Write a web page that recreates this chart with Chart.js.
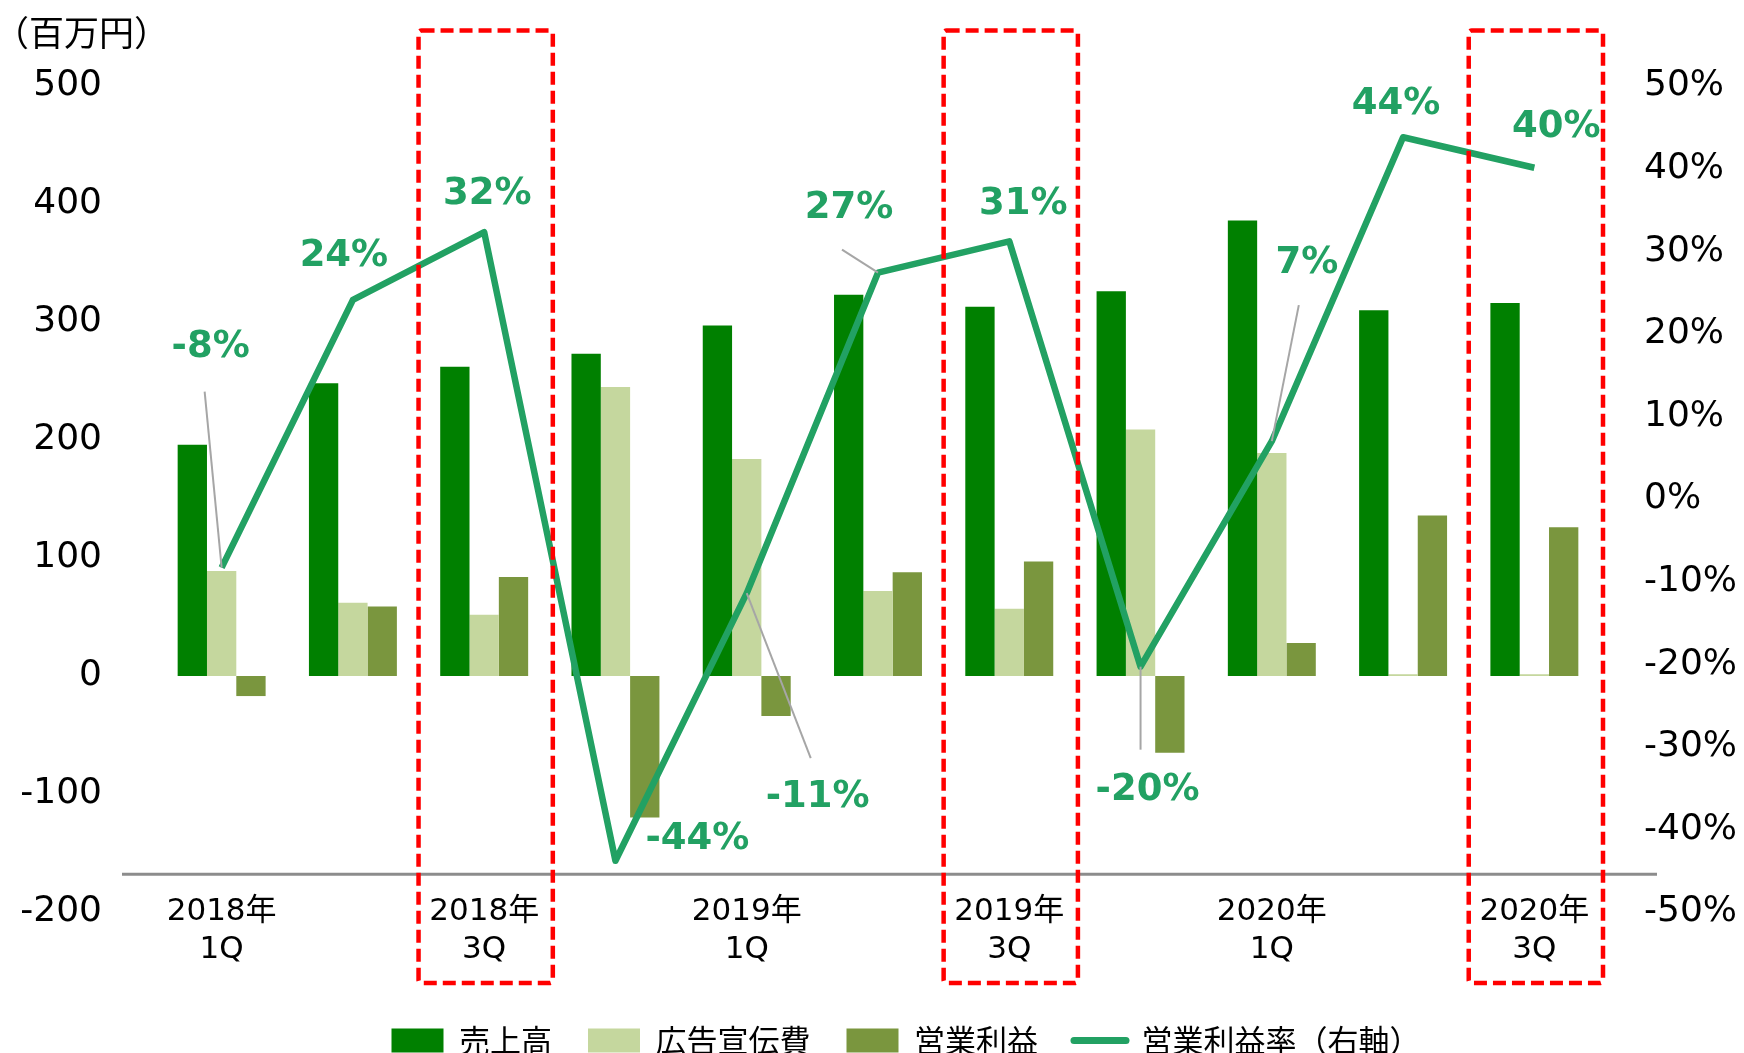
<!DOCTYPE html>
<html>
<head>
<meta charset="utf-8">
<script src="https://cdn.jsdelivr.net/npm/chart.js@4.4.0/dist/chart.umd.min.js"></script>
<style>
  html, body { margin: 0; padding: 0; background: #fff; overflow: hidden; }
  canvas { display: block; }
</style>
</head>
<body>
<canvas id="chart" width="1744" height="1066"></canvas>
<script>
// Data
const quarters = ['2018年1Q', '2018年2Q', '2018年3Q', '2018年4Q', '2019年1Q', '2019年2Q',
  '2019年3Q', '2019年4Q', '2020年1Q', '2020年2Q', '2020年3Q'];
const tickLabels = [['2018年', '1Q'], '', ['2018年', '3Q'], '', ['2019年', '1Q'], '',
  ['2019年', '3Q'], '', ['2020年', '1Q'], '', ['2020年', '3Q']];
const sales = [196, 248, 262, 273, 297, 323, 313, 326, 386, 310, 316];
const adCost = [89, 62, 52, 245, 184, 72, 57, 209, 189, 1.5, 1.5];
const operatingProfit = [-17, 59, 84, -120, -34, 88, 97, -65, 28, 136, 126];
const operatingMargin = [-8.3, 24.1, 32.3, -43.8, -11.4, 27.4, 31.2, -20.3, 7.0, 43.8, 40.1];
const highlighted = ['2018年3Q', '2019年3Q', '2020年3Q'];

// Axis ranges
const LEFT_MIN = -200, LEFT_MAX = 500, LEFT_STEP = 100;
const RIGHT_MIN = -50, RIGHT_MAX = 50, RIGHT_STEP = 10;
const AXIS_LINE_VALUE = -168; // where the grey category line sits (left axis)

// Label placement (pixels from each line point)
const labelOffsets = [[-11, -220], [-9, -44], [3, -38], [82, -21], [71, 204], [-29, -64],
  [14, -37], [7, 124], [35, -178], [-7, -33], [22, -40]];
const leaderOffsets = [[-17, -176], null, null, null, [64, 165], [-36, -23], null, [0, 83],
  [27, -136], null, null];

// Colours
const SALES_COLOR = '#008000';
const AD_COLOR = '#C5D79E';
const PROFIT_COLOR = '#7A963E';
const MARGIN_COLOR = '#22A163';
const BOX_COLOR = '#FF0000';

const FONT = "'DejaVu Sans', 'Noto Sans CJK JP', sans-serif";
const CJK_FONT = "'Noto Sans CJK JP', 'DejaVu Sans', sans-serif";

// Extra drawing: axis line, labels with leaders, red boxes, unit text
const decorPlugin = {
  id: 'decor',
  afterLayout(chart) {
    // legend sits a little right of centre in the original
    chart.legend.left += 34;
    chart.legend.right += 34;
  },
  beforeDatasetsDraw(chart) {
    const { ctx, chartArea, scales } = chart;
    const y = scales.y.getPixelForValue(AXIS_LINE_VALUE);
    ctx.save();
    ctx.strokeStyle = '#8C8C8C';
    ctx.lineWidth = 3;
    ctx.beginPath();
    ctx.moveTo(chartArea.left - 34, y);
    ctx.lineTo(chartArea.right + 57, y);
    ctx.stroke();
    ctx.restore();
  },
  afterDatasetsDraw(chart) {
    const { ctx, scales } = chart;
    ctx.save();
    operatingMargin.forEach((v, i) => {
      const px = scales.x.getPixelForValue(i);
      const py = scales.y1.getPixelForValue(v);
      const lead = leaderOffsets[i];
      if (lead) {
        ctx.strokeStyle = '#A6A6A6';
        ctx.lineWidth = 2;
        ctx.beginPath();
        ctx.moveTo(px + lead[0], py + lead[1]);
        ctx.lineTo(px, py);
        ctx.stroke();
      }
    });
    ctx.fillStyle = MARGIN_COLOR;
    ctx.font = 'bold 37px ' + FONT;
    ctx.textAlign = 'center';
    ctx.textBaseline = 'middle';
    operatingMargin.forEach((v, i) => {
      const px = scales.x.getPixelForValue(i);
      const py = scales.y1.getPixelForValue(v);
      const off = labelOffsets[i];
      ctx.fillText(Math.round(v) + '%', px + off[0], py + off[1]);
    });
    ctx.restore();
  },
  afterDraw(chart) {
    const { ctx, chartArea, scales } = chart;
    const half = chartArea.width / quarters.length / 2;
    ctx.save();
    ctx.strokeStyle = BOX_COLOR;
    ctx.lineWidth = 4.5;
    ctx.setLineDash([13, 6]);
    highlighted.forEach(q => {
      const cx = scales.x.getPixelForValue(quarters.indexOf(q));
      const top = chartArea.top - 55.5;
      const bottom = chartArea.bottom + 71;
      ctx.beginPath();
      ctx.roundRect(cx - half, top, half * 2 + 3, bottom - top, 3);
      ctx.stroke();
    });
    ctx.setLineDash([]);
    ctx.fillStyle = '#000';
    ctx.font = '35px ' + CJK_FONT;
    ctx.textAlign = 'left';
    ctx.textBaseline = 'middle';
    ctx.fillText('（百万円）', -6, 33);
    ctx.restore();
  }
};

const ctx = document.getElementById('chart').getContext('2d');
const chart = new Chart(ctx, {
  type: 'bar',
  data: {
    labels: quarters,
    datasets: [
      { label: '売上高', data: sales, backgroundColor: SALES_COLOR, yAxisID: 'y', order: 1 },
      { label: '広告宣伝費', data: adCost, backgroundColor: AD_COLOR, yAxisID: 'y', order: 1 },
      { label: '営業利益', data: operatingProfit, backgroundColor: PROFIT_COLOR, yAxisID: 'y', order: 1 },
      {
        label: '営業利益率（右軸）',
        type: 'line',
        data: operatingMargin,
        borderColor: MARGIN_COLOR,
        backgroundColor: MARGIN_COLOR,
        borderWidth: 6.5,
        borderJoinStyle: 'round',
        pointRadius: 0,
        tension: 0,
        yAxisID: 'y1',
        order: 0
      }
    ]
  },
  options: {
    responsive: false,
    animation: false,
    devicePixelRatio: 1,
    layout: { padding: { top: 86, left: 0, right: 0, bottom: 0 } },
    datasets: {
      bar: { categoryPercentage: 0.67, barPercentage: 1.0 }
    },
    scales: {
      x: {
        grid: { display: false, drawTicks: false },
        border: { display: false },
        afterFit(scale) { scale.height = 77; },
        ticks: {
          autoSkip: false,
          maxRotation: 0,
          mirror: true,
          padding: -19,
          color: '#000',
          font: { family: FONT, size: 31, lineHeight: 1.23 },
          callback: (value, index) => tickLabels[index]
        }
      },
      y: {
        position: 'left',
        min: LEFT_MIN,
        max: LEFT_MAX,
        grid: { display: false, drawTicks: false },
        border: { display: false },
        afterFit(scale) { scale.width = 156; },
        ticks: {
          stepSize: LEFT_STEP,
          padding: 54,
          color: '#000',
          font: { family: FONT, size: 36 }
        }
      },
      y1: {
        position: 'right',
        min: RIGHT_MIN,
        max: RIGHT_MAX,
        grid: { display: false, drawTicks: false },
        border: { display: false },
        afterFit(scale) { scale.width = 144; },
        ticks: {
          stepSize: RIGHT_STEP,
          padding: 44,
          color: '#000',
          font: { family: FONT, size: 36 },
          callback: v => v + '%'
        }
      }
    },
    plugins: {
      tooltip: { enabled: false },
      legend: {
        position: 'bottom',
        labels: {
          usePointStyle: true,
          pointStyleWidth: 52,
          boxHeight: 24,
          padding: 36,
          color: '#000',
          font: { family: CJK_FONT, size: 31 },
          generateLabels(chart) {
            return chart.data.datasets.map((ds, i) => ({
              text: ds.label,
              fillStyle: ds.backgroundColor,
              strokeStyle: ds.type === 'line' ? ds.borderColor : ds.backgroundColor,
              lineWidth: ds.type === 'line' ? 7 : 0,
              lineCap: 'round',
              pointStyle: ds.type === 'line' ? 'line' : 'rect',
              fontColor: '#000',
              hidden: false,
              datasetIndex: i
            }));
          }
        }
      }
    }
  },
  plugins: [decorPlugin]
});
</script>
</body>
</html>
